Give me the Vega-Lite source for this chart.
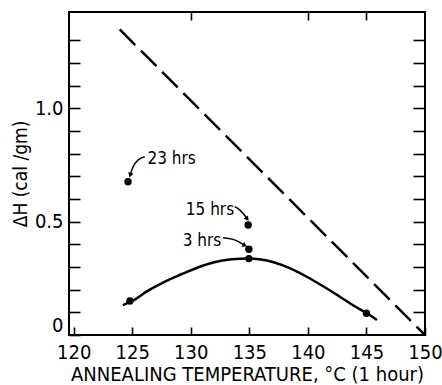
{
  "$schema": "https://vega.github.io/schema/vega-lite/v6.json",
  "width": 356,
  "height": 323,
  "autosize": {"type": "none"},
  "padding": {"left": 69, "top": 12, "right": 17, "bottom": 50},
  "background": "white",
  "config": {
    "view": {"stroke": "black", "strokeWidth": 2},
    "font": "DejaVu Sans Condensed, Liberation Sans, sans-serif",
    "axis": {"domain": false, "grid": false, "tickColor": "black", "tickWidth": 1.6, "labelColor": "black", "titleColor": "black", "labelFont": "DejaVu Sans Condensed, Liberation Sans, sans-serif", "titleFont": "DejaVu Sans Condensed, Liberation Sans, sans-serif", "titleFontWeight": "normal"}
  },
  "datasets": {
    "dashed": [{"t": 123.93, "dh": 1.348}, {"t": 150, "dh": 0}],
    "curve": [
      {"t": 124.2, "dh": 0.132}, {"t": 125, "dh": 0.15}, {"t": 126.35, "dh": 0.196}, {"t": 127.8, "dh": 0.236},
      {"t": 129.2, "dh": 0.268}, {"t": 130.6, "dh": 0.298}, {"t": 132, "dh": 0.321}, {"t": 133.5, "dh": 0.334},
      {"t": 134.9, "dh": 0.338}, {"t": 136, "dh": 0.333}, {"t": 137, "dh": 0.322}, {"t": 138.5, "dh": 0.294},
      {"t": 139.9, "dh": 0.257}, {"t": 141.3, "dh": 0.215}, {"t": 142.7, "dh": 0.17}, {"t": 144, "dh": 0.127},
      {"t": 145, "dh": 0.097}, {"t": 145.9, "dh": 0.066}
    ],
    "points": [
      {"t": 124.64, "dh": 0.676}, {"t": 134.9, "dh": 0.485}, {"t": 134.96, "dh": 0.378},
      {"t": 134.96, "dh": 0.337}, {"t": 124.8, "dh": 0.15}, {"t": 145.0, "dh": 0.096}
    ],
    "labels": [
      {"t": 126.3, "dh": 0.778, "label": "23 hrs", "side": "left"},
      {"t": 133.7, "dh": 0.552, "label": "15 hrs", "side": "right"},
      {"t": 132.6, "dh": 0.415, "label": "3 hrs", "side": "right"}
    ],
    "leaders": [
      {"label": "23 hrs", "k": 0, "t": 126.07, "dh": 0.786},
      {"label": "23 hrs", "k": 1, "t": 125.5, "dh": 0.772},
      {"label": "23 hrs", "k": 2, "t": 125.07, "dh": 0.742},
      {"label": "23 hrs", "k": 3, "t": 124.85, "dh": 0.71},
      {"label": "15 hrs", "k": 0, "t": 133.76, "dh": 0.566},
      {"label": "15 hrs", "k": 1, "t": 134.19, "dh": 0.551},
      {"label": "15 hrs", "k": 2, "t": 134.8, "dh": 0.515},
      {"label": "3 hrs", "k": 0, "t": 132.76, "dh": 0.429},
      {"label": "3 hrs", "k": 1, "t": 133.6, "dh": 0.422},
      {"label": "3 hrs", "k": 2, "t": 134.6, "dh": 0.396}
    ],
    "heads": [
      {"label": "23 hrs", "t": 124.82, "dh": 0.705},
      {"label": "15 hrs", "t": 134.82, "dh": 0.512},
      {"label": "3 hrs", "t": 134.62, "dh": 0.395}
    ]
  },
  "layer": [
    {
      "data": {"name": "dashed"},
      "mark": {"type": "line", "color": "black", "strokeWidth": 2.5, "strokeDash": [22, 8]},
      "encoding": {
        "x": {"field": "t", "type": "quantitative", "scale": {"domain": [119.6, 150], "nice": false, "zero": false},
          "axis": {"orient": "bottom", "values": [120, 125, 130, 135, 140, 145, 150], "tickSize": -8, "labelPadding": 15, "labelFontSize": 20, "labelFlush": false,
            "title": "ANNEALING TEMPERATURE, °C (1 hour)", "titleFontSize": 20, "titlePadding": 2}},
        "y": {"field": "dh", "type": "quantitative", "scale": {"domain": [0, 1.425], "nice": false},
          "axis": {"orient": "left", "values": [0, 0.1, 0.2, 0.3, 0.4, 0.5, 0.6, 0.7, 0.8, 0.9, 1, 1.1, 1.2, 1.3], "tickSize": -11, "labelPadding": 17, "labelFontSize": 20, "labelFlush": true,
            "labelExpr": "datum.value == 0 ? '0' : (datum.value == 0.5 ? '0.5' : (datum.value == 1 ? '1.0' : ''))",
            "title": "ΔH (cal /gm)", "titleFontSize": 19, "titlePadding": 4}}
      }
    },
    {
      "data": {"name": "curve"},
      "mark": {"type": "line", "color": "black", "strokeWidth": 2.5, "interpolate": "monotone"},
      "encoding": {
        "x": {"field": "t", "type": "quantitative", "axis": {"orient": "top", "values": [130, 140, 145], "tickSize": -8, "labels": false, "title": null}},
        "y": {"field": "dh", "type": "quantitative", "axis": {"orient": "right", "values": [0.1, 0.2, 0.3, 0.4, 0.5, 0.6, 0.7, 0.8, 0.9, 1, 1.1, 1.2, 1.3], "tickSize": -12, "labels": false, "title": null}}
      }
    },
    {
      "data": {"name": "points"},
      "mark": {"type": "point", "filled": true, "color": "black", "opacity": 1, "size": 55},
      "encoding": {
        "x": {"field": "t", "type": "quantitative", "axis": null},
        "y": {"field": "dh", "type": "quantitative", "axis": null}
      }
    },
    {
      "data": {"name": "leaders"},
      "mark": {"type": "line", "color": "black", "strokeWidth": 1.5, "interpolate": "monotone"},
      "encoding": {
        "x": {"field": "t", "type": "quantitative", "axis": null},
        "y": {"field": "dh", "type": "quantitative", "axis": null},
        "detail": {"field": "label"},
        "order": {"field": "k"}
      }
    },
    {
      "data": {"name": "heads"},
      "transform": [{"filter": "datum.label == '23 hrs'"}],
      "mark": {"type": "point", "shape": "triangle-down", "filled": true, "color": "black", "opacity": 1, "size": 30, "angle": 18},
      "encoding": {"x": {"field": "t", "type": "quantitative", "axis": null}, "y": {"field": "dh", "type": "quantitative", "axis": null}}
    },
    {
      "data": {"name": "heads"},
      "transform": [{"filter": "datum.label == '15 hrs'"}],
      "mark": {"type": "point", "shape": "triangle-down", "filled": true, "color": "black", "opacity": 1, "size": 30, "angle": -37},
      "encoding": {"x": {"field": "t", "type": "quantitative", "axis": null}, "y": {"field": "dh", "type": "quantitative", "axis": null}}
    },
    {
      "data": {"name": "heads"},
      "transform": [{"filter": "datum.label == '3 hrs'"}],
      "mark": {"type": "point", "shape": "triangle-down", "filled": true, "color": "black", "opacity": 1, "size": 30, "angle": -61},
      "encoding": {"x": {"field": "t", "type": "quantitative", "axis": null}, "y": {"field": "dh", "type": "quantitative", "axis": null}}
    },
    {
      "data": {"name": "labels"},
      "transform": [{"filter": "datum.side == 'left'"}],
      "mark": {"type": "text", "align": "left", "baseline": "middle", "fontSize": 17, "color": "black"},
      "encoding": {"x": {"field": "t", "type": "quantitative", "axis": null}, "y": {"field": "dh", "type": "quantitative", "axis": null}, "text": {"field": "label"}}
    },
    {
      "data": {"name": "labels"},
      "transform": [{"filter": "datum.side == 'right'"}],
      "mark": {"type": "text", "align": "right", "baseline": "middle", "fontSize": 17, "color": "black"},
      "encoding": {"x": {"field": "t", "type": "quantitative", "axis": null}, "y": {"field": "dh", "type": "quantitative", "axis": null}, "text": {"field": "label"}}
    }
  ]
}
